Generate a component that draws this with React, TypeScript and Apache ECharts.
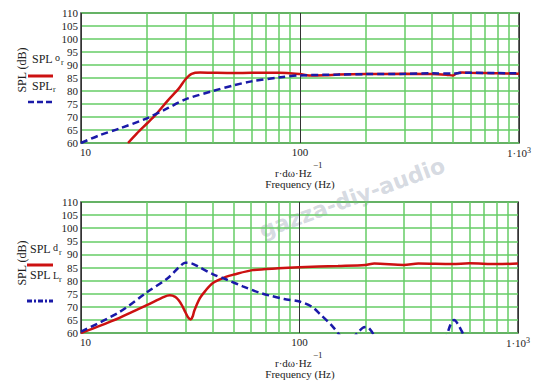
import React, { useEffect, useRef } from "react";
import * as echarts from "echarts";

// Top chart: SPL o_r (red) and SPL_r (blue dashed)
const topRedFreq = [16.4, 18, 20, 22, 25, 28, 30, 32, 35, 40, 50, 60, 80, 100, 110, 130, 150, 200, 300, 400, 470, 500, 520, 550, 600, 700, 800, 1000];
const topRedVal = [60, 63.7, 67.5, 71, 76.5, 81, 84.5, 86.6, 87.1, 87, 86.9, 87, 87, 86.5, 86, 86.1, 86.3, 86.5, 86.6, 86.5, 86.2, 86, 86.8, 87.1, 87, 86.9, 86.8, 86.6];
const topBlueFreq = [10, 12, 15, 20, 25, 30, 40, 50, 60, 80, 100, 150, 200, 300, 400, 500, 550, 600, 800, 1000];
const topBlueVal = [60, 62.8, 65.6, 69.5, 73.5, 76.8, 80, 82.2, 83.7, 85.2, 86, 86.3, 86.5, 86.6, 86.8, 86.7, 87, 87, 86.9, 86.8];

// Bottom chart: SPL d_r (red) and SPL L_r (blue dashed)
const botRedFreq = [10, 12, 15, 20, 24, 25.5, 27, 28, 29, 30, 31, 31.8, 32.5, 33, 35, 37, 40, 46, 50, 61, 80, 100, 150, 200, 220, 300, 350, 500, 600, 800, 1000];
const botRedVal = [60, 62.5, 65.8, 70.6, 73.8, 74.4, 73.8, 72.5, 70.5, 68, 65.8, 65.2, 66.5, 68.5, 73.3, 76, 79, 81.4, 82.3, 84, 84.7, 85.1, 85.6, 86, 86.5, 86, 86.5, 86.3, 86.6, 86.3, 86.5];
const botBlueFreq = [10, 15, 20, 25, 28, 30, 32, 35, 40, 47, 55, 65, 73, 85, 100, 114, 125, 140, 150, 165, 184, 195, 203, 212, 220, 240, 450, 470, 490, 510, 530, 566, 600, 1000];
const botBlueVal = [60.5, 68, 75.5, 81, 85, 86.8, 86.6, 85, 82.5, 80.2, 77.8, 75.5, 74.3, 73, 72, 70, 67, 63, 60, 56, 60, 62, 62.3, 61, 59, 55, 55, 58.5, 63, 65, 63.5, 59, 55, 55];

// Grid and tick values
const minorFreqs = [20, 30, 40, 50, 60, 70, 80, 90, 200, 300, 400, 500, 600, 700, 800, 900];
const yMin = 60;
const yMax = 110;
const yStep = 5;

const zip = (xs: number[], ys: number[]) => xs.map((x, i) => [x, ys[i]]);

const SERIF = "Liberation Serif";
const GREEN = "#66cc66";

export default function App() {
  const ref = useRef<HTMLDivElement>(null);
  useEffect(() => {
    if (!ref.current) return;
    const chart = echarts.init(ref.current, null, { renderer: "svg" });

    const grids = [
      { left: 81, top: 13, width: 438, height: 130 },
      { left: 81, top: 202, width: 437, height: 131 },
    ];

    const xAxis = grids.map((_, i) => ({
      type: "log",
      logBase: 10,
      min: 10,
      max: 1000,
      gridIndex: i,
      axisLine: { show: false },
      axisTick: { show: false },
      splitLine: { show: true, lineStyle: { color: "#333", width: 1 } },
      axisLabel: {
        margin: 3,
        color: "#222",
        fontFamily: SERIF,
        fontSize: 11,
        formatter: (v: number) => {
          if (v === 10) return "{l|10}";
          if (v === 100) return "{n|100}";
          return "{n|1·10}{s|3}";
        },
        rich: {
          l: { fontFamily: SERIF, fontSize: 11, color: "#222", padding: [0, 0, 0, 9] },
          n: { fontFamily: SERIF, fontSize: 11, color: "#222" },
          s: { fontFamily: SERIF, fontSize: 8, color: "#222", verticalAlign: "top", padding: [0, 0, 5, 0] },
        },
      },
    }));

    const yAxis = grids.map((_, i) => ({
      type: "value",
      min: yMin,
      max: yMax,
      interval: yStep,
      gridIndex: i,
      axisLine: { show: false },
      axisTick: { show: false },
      splitLine: { show: true, lineStyle: { color: GREEN, width: 1.5 } },
      axisLabel: { margin: 3, color: "#222", fontFamily: SERIF, fontSize: 11 },
    }));

    const gridLineSeries = (i: number) => ({
      type: "line",
      xAxisIndex: i,
      yAxisIndex: i,
      data: [[10, 60]],
      symbol: "none",
      lineStyle: { width: 0 },
      silent: true,
      z: 1,
      markLine: {
        silent: true,
        symbol: ["none", "none"],
        label: { show: false },
        lineStyle: { color: GREEN, width: 1.5, type: "solid" },
        data: minorFreqs.map((f) => ({ xAxis: f })),
      },
    });

    const curve = (i: number, data: number[][], color: string, dashed: boolean) => ({
      type: "line",
      xAxisIndex: i,
      yAxisIndex: i,
      data,
      symbol: "none",
      smooth: 0.3,
      clip: true,
      z: 5,
      lineStyle: { color, width: 2.5, type: dashed ? [7, 4] : "solid" },
    });

    const txt = (x: number, y: number, text: string, size = 12, extra: any = {}) => ({
      type: "text",
      x,
      y,
      z: 100,
      style: { text, fontFamily: SERIF, fontSize: size, fill: "#222", textAlign: "left", textVerticalAlign: "middle", ...extra },
    });

    const graphic: any[] = [
      // watermark
      {
        type: "text",
        x: 352,
        y: 198,
        rotation: (20 * Math.PI) / 180,
        z: 0,
        style: {
          text: "gazza-diy-audio",
          fontFamily: "DejaVu Sans",
          fontSize: 22,
          fontWeight: "bold",
          fill: "rgba(150,160,180,0.4)",
          textAlign: "center",
          textVerticalAlign: "middle",
        },
      },
      // top legend
      { type: "text", x: 22, y: 70, rotation: Math.PI / 2, z: 100, style: { text: "SPL (dB)", fontFamily: SERIF, fontSize: 12, fill: "#222", textAlign: "center", textVerticalAlign: "middle" } },
      txt(32, 59, "SPL"),
      txt(55, 57, "o", 10),
      txt(61, 62, "r", 8),
      { type: "line", z: 100, shape: { x1: 28, y1: 76, x2: 53, y2: 76 }, style: { stroke: "#cc1111", lineWidth: 3 } },
      txt(32, 86, "SPL"),
      txt(53, 89, "r", 8),
      { type: "line", z: 100, shape: { x1: 28, y1: 102, x2: 53, y2: 102 }, style: { stroke: "#1a1aa8", lineWidth: 2.5, lineDash: [6, 3] } },
      // top x-axis titles
      txt(275, 173, "r·dω·Hz", 11),
      txt(313, 165, "−1", 9),
      txt(300, 184, "Frequency (Hz)", 11, { textAlign: "center" }),
      // bottom legend
      { type: "text", x: 22, y: 263, rotation: Math.PI / 2, z: 100, style: { text: "SPL (dB)", fontFamily: SERIF, fontSize: 12, fill: "#222", textAlign: "center", textVerticalAlign: "middle" } },
      txt(30, 249, "SPL"),
      txt(53, 247, "d", 10),
      txt(59, 252, "r", 8),
      { type: "line", z: 100, shape: { x1: 27, y1: 265, x2: 53, y2: 265 }, style: { stroke: "#cc1111", lineWidth: 3 } },
      txt(30, 275, "SPL"),
      txt(53, 275, "L", 10),
      txt(59, 279, "r", 8),
      { type: "line", z: 100, shape: { x1: 27, y1: 301, x2: 53, y2: 301 }, style: { stroke: "#1a1aa8", lineWidth: 3, lineDash: [5, 2, 2, 2] } },
      // bottom x-axis titles
      txt(275, 363, "r·dω·Hz", 11),
      txt(313, 355, "−1", 9),
      txt(300, 374, "Frequency (Hz)", 11, { textAlign: "center" }),
    ];

    chart.setOption({
      animation: false,
      backgroundColor: "#ffffff",
      grid: grids.map((g) => ({ ...g, show: true, borderColor: "#333", borderWidth: 1.5, backgroundColor: "transparent" })),
      xAxis,
      yAxis,
      graphic,
      series: [
        gridLineSeries(0),
        gridLineSeries(1),
        curve(0, zip(topRedFreq, topRedVal), "#cc1111", false),
        curve(0, zip(topBlueFreq, topBlueVal), "#1a1aa8", true),
        curve(1, zip(botRedFreq, botRedVal), "#cc1111", false),
        curve(1, zip(botBlueFreq, botBlueVal), "#1a1aa8", true),
      ],
    });
    return () => chart.dispose();
  }, []);
  return <div ref={ref} style={{ width: 548, height: 382, position: "absolute", left: 0, top: 0 }} />;
}
